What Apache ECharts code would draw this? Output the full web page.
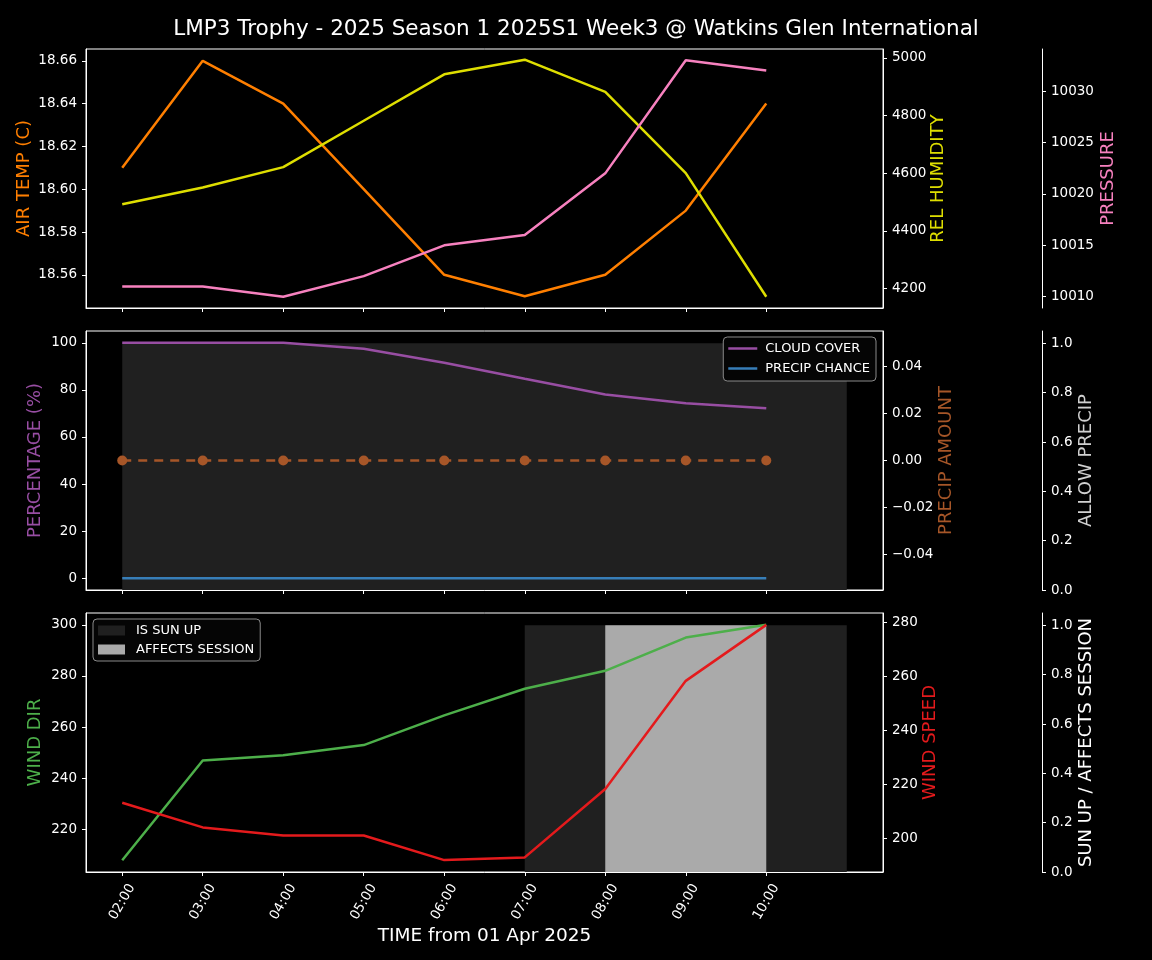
<!DOCTYPE html>
<html><head><meta charset="utf-8">
<script src="https://cdn.jsdelivr.net/npm/echarts@6/dist/echarts.min.js"></script>
<style>html,body{margin:0;padding:0;background:#000;} #c{width:1152px;height:960px;}</style>
</head><body><div id="c"></div>
<script>
// ---- data ----
const timeLabels = ['02:00','03:00','04:00','05:00','06:00','07:00','08:00','09:00','10:00'];
const airTemp = [18.61,18.66,18.64,18.60,18.56,18.55,18.56,18.59,18.64];
const relHumidity = [4492,4550,4621,4782,4943,4994,4882,4600,4171];
const pressure = [10011,10011,10010,10012,10015,10016,10022,10033,10032];
const cloudCover = [100,100,100,97.5,91.5,84.7,78,74.3,72.2];
const precipChance = [0,0,0,0,0,0,0,0,0];
const precipAmount = [0,0,0,0,0,0,0,0,0];
// shaded flags per hour 02:00 .. 11:00
const allowPrecip = [1,1,1,1,1,1,1,1,1,1];
const windDir = [208,247,249,253,264.6,275,282,295,300];
const windSpeed = [213.2,204.1,201.1,201.1,192,193,218.3,258.3,279];
const sunUp = [0,0,0,0,0,1,1,1,1,1];
const affectsSession = [0,0,0,0,0,0,1,1,0,0];

const tempTicks = [18.56,18.58,18.60,18.62,18.64,18.66];
const humTicks = [4200,4400,4600,4800,5000];
const presTicks = [10010,10015,10020,10025,10030];
const pctTicks = [0,20,40,60,80,100];
const amtTicks = [-0.04,-0.02,0,0.02,0.04];
const unitTicks = [0,0.2,0.4,0.6,0.8,1.0];
const dirTicks = [220,240,260,280,300];
const spdTicks = [200,220,240,260,280];

const FONT = 'DejaVu Sans';
const C = {
  orange:'#ff7f00', yellow:'#dede00', pink:'#f781bf', purple:'#984ea3', blue:'#377eb8',
  brown:'#a65628', green:'#4daf4a', red:'#e41a1c', shade:'#202020', light:'#aaaaaa'
};
const LW = 2.5;
const tickPos = timeLabels.map((_, i) => i);
const pts = arr => arr.map((v, i) => [i, v]);

function makeX(grid, showLabels) {
  return {
    type:'value', gridIndex:grid, min:-0.45, max:9.45,
    axisLine:{show:true, onZero:false, lineStyle:{color:'#fff', width:1}},
    axisTick:{show:true, length:4, lineStyle:{color:'#fff'}, customValues:tickPos},
    axisLabel:{show:showLabels, customValues:tickPos, formatter:v => timeLabels[Math.round(v)],
      rotate:60, align:'center', verticalAlign:'middle', margin:30,
      color:'#fff', fontFamily:FONT, fontSize:13.5},
    splitLine:{show:false},
    name: showLabels ? 'TIME from 01 Apr 2025' : '', nameLocation:'middle', nameGap:55,
    nameMoveOverlap:false,
    nameTextStyle:{color:'#fff', fontSize:18.5, fontFamily:FONT}
  };
}
function makeY(o) {
  return {
    type:'value', gridIndex:o.grid, min:o.min, max:o.max, position:o.pos, offset:o.offset || 0,
    name:o.name, nameLocation:'middle', nameRotate:90, nameGap:o.gap, nameMoveOverlap:false,
    nameTextStyle:{color:o.nameColor, fontFamily:FONT, fontSize:18},
    axisLine:{show:true, onZero:false, lineStyle:{color:'#fff', width:1}},
    axisTick:{show:true, length:4, lineStyle:{color:'#fff'}, customValues:o.ticks},
    axisLabel:{show:true, color:'#fff', fontFamily:FONT, fontSize:13.5, margin:9,
      customValues:o.ticks, formatter:o.fmt},
    splitLine:{show:false}
  };
}
const fmtN = d => v => (v < -1e-12 ? '\u2212' : '') + Math.abs(v).toFixed(d);

const gridBase = {left:86, right:269, height:259, show:true, borderColor:'#fff', borderWidth:1, backgroundColor:'transparent'};

function lineSeries(name, x, y, data, color, extra) {
  return Object.assign({
    type:'line', name, xAxisIndex:x, yAxisIndex:y, data:pts(data), symbol:'none',
    color, lineStyle:{width:LW, color}, itemStyle:{color}, z:3, silent:true
  }, extra || {});
}
function shadeSeries(name, x, y, data, color, z) {
  return {
    type:'line', name, xAxisIndex:x, yAxisIndex:y, data:pts(data), step:'end', symbol:'none',
    color, itemStyle:{color}, lineStyle:{width:0, opacity:0}, areaStyle:{color, opacity:1}, z, silent:true
  };
}

const option = {
  backgroundColor:'#000',
  animation:false,
  title:{text:'LMP3 Trophy - 2025 Season 1 2025S1 Week3 @ Watkins Glen International', left:'center', top:13,
    textStyle:{color:'#fff', fontSize:21.5, fontWeight:'normal', fontFamily:FONT}},
  grid:[
    Object.assign({top:49}, gridBase),
    Object.assign({top:331}, gridBase),
    Object.assign({top:613}, gridBase)
  ],
  xAxis:[makeX(0,false), makeX(1,false), makeX(2,true)],
  yAxis:[
    makeY({grid:0, min:18.5445, max:18.6655, pos:'left', ticks:tempTicks, fmt:fmtN(2), name:'AIR TEMP (C)', nameColor:C.orange, gap:53}),
    makeY({grid:0, min:4132, max:5031, pos:'right', ticks:humTicks, fmt:fmtN(0), name:'REL HUMIDITY', nameColor:C.yellow, gap:46}),
    makeY({grid:0, min:10008.9, max:10034.1, pos:'right', offset:159, ticks:presTicks, fmt:fmtN(0), name:'PRESSURE', nameColor:C.pink, gap:57}),
    makeY({grid:1, min:-5, max:105, pos:'left', ticks:pctTicks, fmt:fmtN(0), name:'PERCENTAGE (%)', nameColor:C.purple, gap:42}),
    makeY({grid:1, min:-0.055, max:0.055, pos:'right', ticks:amtTicks, fmt:fmtN(2), name:'PRECIP AMOUNT', nameColor:C.brown, gap:54}),
    makeY({grid:1, min:0, max:1.05, pos:'right', offset:159, ticks:unitTicks, fmt:fmtN(1), name:'ALLOW PRECIP', nameColor:'#d0d0d0', gap:35}),
    makeY({grid:2, min:203.4, max:304.6, pos:'left', ticks:dirTicks, fmt:fmtN(0), name:'WIND DIR', nameColor:C.green, gap:42}),
    makeY({grid:2, min:187.6, max:283.4, pos:'right', ticks:spdTicks, fmt:fmtN(0), name:'WIND SPEED', nameColor:C.red, gap:38}),
    makeY({grid:2, min:0, max:1.05, pos:'right', offset:159, ticks:unitTicks, fmt:fmtN(1), name:'SUN UP / AFFECTS SESSION', nameColor:'#ffffff', gap:35})
  ],
  legend:[
    {data:[{name:'CLOUD COVER', icon:'rect'}, {name:'PRECIP CHANCE', icon:'rect'}], orient:'vertical',
      right:276, top:337, itemWidth:29, itemHeight:2.5, itemGap:7, padding:[5,6,6,5],
      backgroundColor:'#050505', borderColor:'#8a8a8a', borderWidth:1, borderRadius:4, selectedMode:false,
      textStyle:{color:'#fff', fontFamily:FONT, fontSize:13, padding:[0,0,0,3]}},
    {data:[{name:'IS SUN UP', icon:'rect'}, {name:'AFFECTS SESSION', icon:'rect'}], orient:'vertical',
      left:93, top:619, itemWidth:27, itemHeight:10, itemGap:6, padding:[5,6,5,5],
      backgroundColor:'#050505', borderColor:'#8a8a8a', borderWidth:1, borderRadius:4, selectedMode:false,
      textStyle:{color:'#fff', fontFamily:FONT, fontSize:13, padding:[0,0,0,6]}}
  ],
  series:[
    lineSeries('AIR TEMP', 0, 0, airTemp, C.orange),
    lineSeries('REL HUMIDITY', 0, 1, relHumidity, C.yellow),
    lineSeries('PRESSURE', 0, 2, pressure, C.pink),
    shadeSeries('ALLOW PRECIP', 1, 5, allowPrecip, C.shade, 1),
    lineSeries('CLOUD COVER', 1, 3, cloudCover, C.purple),
    lineSeries('PRECIP CHANCE', 1, 3, precipChance, C.blue),
    lineSeries('PRECIP AMOUNT', 1, 4, precipAmount, C.brown, {symbol:'circle', symbolSize:10, showAllSymbol:true,
      lineStyle:{width:LW, color:C.brown, type:[9,7]}}),
    shadeSeries('IS SUN UP', 2, 8, sunUp, C.shade, 1),
    shadeSeries('AFFECTS SESSION', 2, 8, affectsSession, C.light, 2),
    lineSeries('WIND DIR', 2, 6, windDir, C.green),
    lineSeries('WIND SPEED', 2, 7, windSpeed, C.red)
  ]
};
const chart = echarts.init(document.getElementById('c'), null, {renderer:'canvas'});
chart.setOption(option);
</script>
</body></html>
